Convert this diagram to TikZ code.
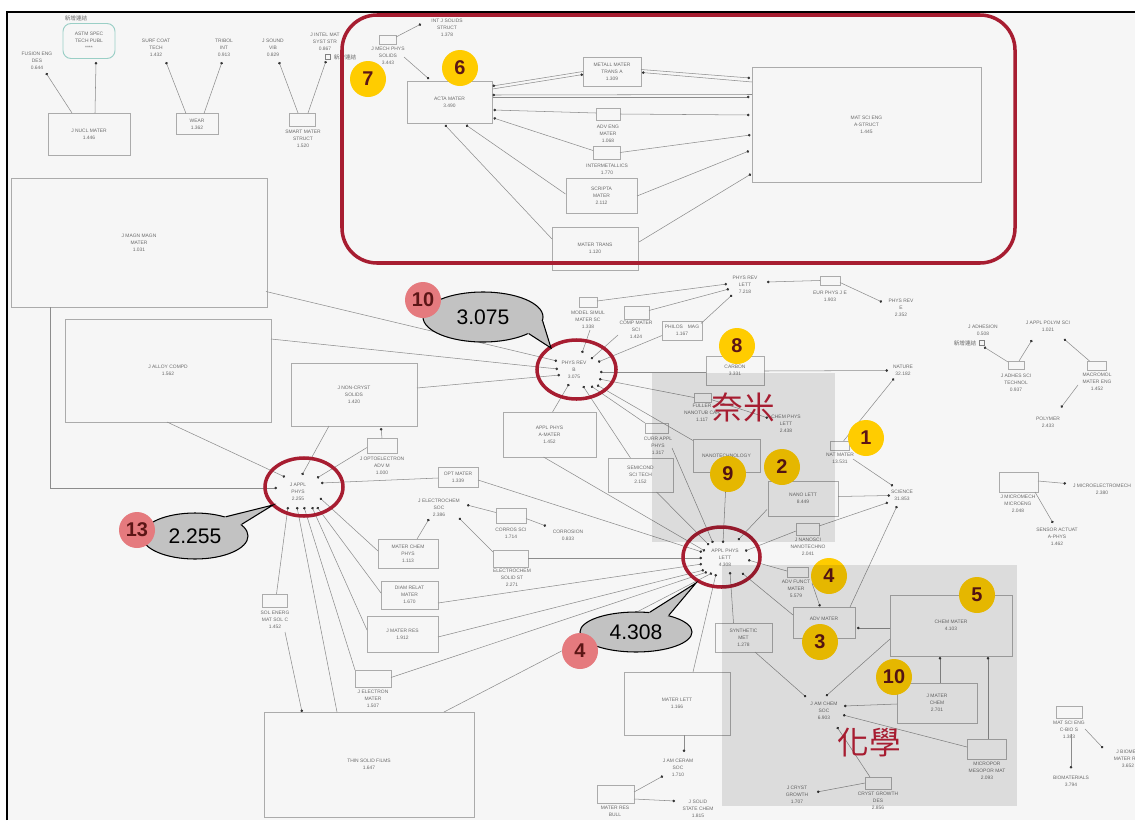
\documentclass[tikz,border=0pt]{standalone}
\usepackage{fontspec}
\setsansfont{Liberation Sans}
\newfontfamily\cjk{Noto Sans CJK TC}
\usetikzlibrary{arrows.meta,calc,shapes.geometric}
\definecolor{bgc}{HTML}{F6F6F6}
\definecolor{boxc}{HTML}{ABABAB}
\definecolor{linec}{HTML}{8C8C8C}
\definecolor{txtc}{HTML}{6A6A6A}
\definecolor{dotc}{HTML}{333333}
\definecolor{crimson}{HTML}{A71D31}
\definecolor{gold}{HTML}{FFCC00}
\definecolor{rose}{HTML}{E57A7E}
\definecolor{numtxt}{HTML}{5C1616}
\definecolor{bubc}{HTML}{C2C2C2}
\definecolor{tealc}{HTML}{9ACFC6}
\tikzset{
  every node/.style={font=\sffamily\fontsize{4.2}{6}\selectfont, text=txtc, inner sep=0pt},
  box/.style={draw=boxc, line width=0.6pt, align=center},
  lab/.style={align=center},
  sz/.style 2 args={minimum width=#1*0.3mm, minimum height=#2*0.3mm},
  link/.style={draw=linec, line width=0.45pt, -{Circle[length=2.2pt, color=dotc]}},
  tag/.style={font=\cjk\fontsize{4.8}{6}\selectfont},
  chk/.style={draw=gray, line width=0.4pt, minimum size=1.5mm},
  num/.style={circle, fill=gold, minimum size=10.8mm, text=numtxt,
    font=\sffamily\bfseries\fontsize{17}{17}\selectfont},
  pnum/.style={num, fill=rose},
  ring/.style={ellipse, draw=crimson, line width=3pt},
  bub/.style={ellipse, fill=bubc, draw=black, line width=0.9pt, text=black,
    font=\sffamily\fontsize{18}{18}\selectfont},
  tail/.style={draw=black, line width=0.9pt},
  area/.style={fill=black, opacity=0.1},
  big/.style={text=crimson, font=\cjk\fontsize{27}{27}\selectfont}
}
\begin{document}
\begin{tikzpicture}[x=0.3mm, y=-0.3mm]
\useasboundingbox (0,0) rectangle (1135,820);
\fill[white] (0,0) rectangle (1135,820);
\fill[bgc] (7,12) rectangle (1135,820);
\draw[black, line width=1.8pt] (7,820) -- (7,12) -- (1135,12);

% top left
\node[tag] (astmtag) at (76,18) {新增連結};
\node[box, sz={52}{35}, draw=tealc, rounded corners=2.4mm, line width=0.8pt] (astm) at (89,41) {ASTM SPEC\\TECH PUBL\\****};
\node[lab] (fusion) at (37,61) {FUSION ENG\\DES\\0.644};
\node[box, sz={82}{42}] (nucl) at (89,134) {J NUCL MATER\\1.446};
\node[lab] (surf) at (156,48) {SURF COAT\\TECH\\1.432};
\node[lab] (tribol) at (224,48) {TRIBOL\\INT\\0.913};
\node[box, sz={42}{21}] (wear) at (197,124) {WEAR\\1.362};
\node[lab] (sound) at (273,48) {J SOUND\\VIB\\0.829};
\node[lab] (intel) at (325,42) {J INTEL MAT\\SYST STR\\0.867};
\node[chk] (intelchk) at (328,57) {};
\node[tag] (inteltag) at (345,57) {新增連結};
\node[box, sz={26}{13}] (smartb) at (302,119.5) {};
\node[lab] (smart) at (303,139) {SMART MATER\\STRUCT\\1.520};
\draw[link] ($(nucl)+(-17,-21)$) -- ($(fusion)+(9,12)$);
\draw[link] ($(nucl)+(6,-21)$) -- ($(astm)+(7,21)$);
\draw[link] ($(wear)+(-11,-10.5)$) -- ($(surf)+(10,14)$);
\draw[link] ($(wear)+(7,-10.5)$) -- ($(tribol)+(-2,14)$);
\draw[link] ($(smartb)+(-4,-6.5)$) -- ($(sound)+(6,14)$);
\draw[link] ($(smartb)+(6,-6.5)$) -- ($(intel)+(1,19)$);

% materials cluster
\node[lab] (intsol) at (447,28) {INT J SOLIDS\\STRUCT\\1.378};
\node[box, sz={17}{9}] (mechb) at (387.5,39.5) {};
\node[lab] (mech) at (388,56) {J MECH PHYS\\SOLIDS\\3.443};
\node[box, sz={85}{42}] (acta) at (449.5,102) {ACTA MATER\\3.490};
\node[box, sz={58}{29}] (metall) at (612,71.5) {METALL MATER\\TRANS A\\1.309};
\node[box, sz={24}{12}] (advengb) at (608,114) {};
\node[lab] (adveng) at (608,134) {ADV ENG\\MATER\\1.068};
\node[box, sz={27}{13}] (intermb) at (606.5,152.5) {};
\node[lab] (interm) at (607,169.5) {INTERMETALLICS\\1.770};
\node[box, sz={71}{35}] (scripta) at (601.5,195.5) {SCRIPTA\\MATER\\2.112};
\node[box, sz={86}{43}] (matertr) at (595,248.5) {MATER TRANS\\1.120};
\node[box, sz={229}{115}] (matsci) at (866.5,124.5) {MAT SCI ENG\\A-STRUCT\\1.445};
\draw[link] ($(mechb)+(8.5,-2.5)$) -- ($(intsol)+(-26,-4)$);
\draw[link] ($(mech)+(16,1)$) -- ($(acta)+(-20.5,-23)$);
\draw[link] ($(metall)+(-29,0)$) -- ($(acta)+(43,-16)$);
\draw[link] ($(acta)+(43,-13)$) -- ($(metall)+(-29,3)$);
\draw[link] ($(metall)+(29,-2)$) -- ($(matsci)+(-116.5,-46.5)$);
\draw[link] ($(matsci)+(-114.5,-42.5)$) -- ($(metall)+(30,1)$);
\draw[link] ($(matsci)+(-114.5,-30)$) -- ($(acta)+(43,-7)$);
\draw[link] ($(acta)+(43,-5)$) -- ($(matsci)+(-117,-27.5)$);
\draw[link] ($(advengb)+(-12,-1)$) -- ($(acta)+(44,8)$);
\draw[link] ($(advengb)+(12,0)$) -- ($(matsci)+(-117,-9.5)$);
\draw[link] ($(intermb)+(-13.5,-2)$) -- ($(acta)+(44,16)$);
\draw[link] ($(intermb)+(13.5,0)$) -- ($(matsci)+(-116,10.5)$);
\draw[link] ($(scripta)+(-36,-1.5)$) -- ($(acta)+(16.5,23)$);
\draw[link] ($(scripta)+(35.5,0.5)$) -- ($(matsci)+(-117.5,26.5)$);
\draw[link] ($(matertr)+(-43,-9.5)$) -- ($(acta)+(-4.5,23)$);
\draw[link] ($(matertr)+(44,-6.5)$) -- ($(matsci)+(-115.5,49.5)$);

% J APPL PHYS side
\node[lab] (prb) at (574,370) {PHYS REV\\B\\3.075};
\node[box, sz={256}{129}] (magn) at (139,242.5) {J MAGN MAGN\\MATER\\1.031};
\node[box, sz={206}{103}] (alloy) at (168,370.5) {J ALLOY COMPD\\1.562};
\node[box, sz={126}{63}] (noncr) at (354,394.5) {J NON-CRYST\\SOLIDS\\1.420};
\node[box, sz={30}{15}] (optob) at (382,445.5) {};
\node[lab] (opto) at (382,466) {J OPTOELECTRON\\ADV M\\1.000};
\node[lab] (jap) at (298,492) {J APPL\\PHYS\\2.255};
\node[box, sz={40}{20}] (optm) at (458,477) {OPT MATER\\1.339};
\node[box, sz={25}{13}] (solb) at (274.5,600.5) {};
\node[lab] (sol) at (275,620) {SOL ENERG\\MAT SOL C\\1.452};
\node[box, sz={210}{105}] (thin) at (369,764.5) {THIN SOLID FILMS\\1.647};
\node[box, sz={36}{17}] (elecb) at (373,678.5) {};
\node[lab] (elec) at (373,699) {J ELECTRON\\MATER\\1.507};
\node[box, sz={71}{36}] (jmr) at (402.5,634) {J MATER RES\\1.912};
\node[box, sz={57}{28}] (diam) at (409.5,595) {DIAM RELAT\\MATER\\1.670};
\node[box, sz={60}{29}] (mcp) at (408,553.5) {MATER CHEM\\PHYS\\1.113};
\node[lab] (jes) at (439,508) {J ELECTROCHEM\\SOC\\2.386};
\node[box, sz={30}{15}] (corrb) at (511,515.5) {};
\node[lab] (corr) at (511,533.5) {CORROS SCI\\1.714};
\node[lab] (corro) at (568,535.5) {CORROSION\\0.833};
\node[box, sz={35}{17}] (elsb) at (510.5,558.5) {};
\node[lab] (els) at (512,578) {ELECTROCHEM\\SOLID ST\\2.271};
\draw[link] ($(magn)+(127,49)$) -- ($(prb)+(-17,-9)$);
\draw[link] ($(magn)+(-89,64.5)$) |- ($(jap)+(-21,-4)$);
\draw[link] ($(alloy)+(103,-31.5)$) -- ($(prb)+(-16,-1)$);
\draw[link] ($(noncr)+(63,-6.5)$) -- ($(prb)+(-14,5)$);
\draw[link] ($(optob)+(0,-7.5)$) -- ($(noncr)+(27,33.5)$);
\draw[link] ($(optob)+(-15,2)$) -- ($(jap)+(19,-14)$);
\draw[link] ($(noncr)+(-25,31.5)$) -- ($(jap)+(4,-17)$);
\draw[link] ($(alloy)+(-1,51.5)$) -- ($(jap)+(-13,-15)$);
\draw[link] ($(optm)+(-20,1)$) -- ($(jap)+(23,-9)$);
\draw[link] ($(solb)+(2,-6.5)$) -- ($(jap)+(-10,15)$);
\draw[link] ($(sol)+(10,12)$) -- ($(thin)+(-67,-52.5)$);
\draw[link] ($(thin)+(-32,-52.5)$) -- ($(jap)+(-1,15)$);
\draw[link] ($(elecb)+(-18,-8.5)$) -- ($(jap)+(6,15)$);
\draw[link] ($(jmr)+(-35.5,-4)$) -- ($(jap)+(14,15)$);
\draw[link] ($(diam)+(-28.5,-2)$) -- ($(jap)+(19,15)$);
\draw[link] ($(mcp)+(-30,-2.5)$) -- ($(jap)+(22,6)$);
\draw[link] ($(mcp)+(9,-14.5)$) -- ($(jes)+(-10,11)$);
\draw[link] ($(corrb)+(-15,-3)$) -- ($(jes)+(28,-3)$);
\draw[link] ($(corrb)+(15,3)$) -- ($(corro)+(-22,-9.5)$);
\draw[link] ($(elsb)+(-17.5,-6.5)$) -- ($(jes)+(20,10)$);

% PHYS REV B / APPL PHYS LETT
\node[box, sz={18}{10}] (modelb) at (588,302) {};
\node[lab] (model) at (588,320) {MODEL SIMUL\\MATER SC\\1.338};
\node[box, sz={25}{13}] (compb) at (636.5,312.5) {};
\node[lab] (comp) at (636,330) {COMP MATER\\SCI\\1.424};
\node[box, sz={40}{19}] (philos) at (682,330.5) {PHILOS\quad MAG\\1.167};
\node[lab] (prl) at (745,285) {PHYS REV\\LETT\\7.218};
\node[box, sz={20}{9}] (eurb) at (830,280.5) {};
\node[lab] (eur) at (830,296.5) {EUR PHYS J E\\1.903};
\node[lab] (pre) at (901,308) {PHYS REV\\E\\2.352};
\node[lab] (apl) at (725,558) {APPL PHYS\\LETT\\4.308};
\node[box, sz={93}{45}] (apa) at (549.5,434.5) {APPL PHYS\\A-MATER\\1.452};
\node[box, sz={65}{34}] (semi) at (640.5,475) {SEMICOND\\SCI TECH\\2.152};
\node[box, sz={23}{10}] (currb) at (656.5,428) {};
\node[lab] (curr) at (658,446) {CURR APPL\\PHYS\\1.317};
\node[box, sz={67}{33}] (nanot) at (726.5,455.5) {NANOTECHNOLOGY};
\node[box, sz={17}{9}] (fullb) at (702.5,397.5) {};
\node[lab] (full) at (702,413) {FULLER\\NANOTUB CAR\\1.117};
\node[lab] (cpl) at (786,424) {CHEM PHYS\\LETT\\2.438};
\node[box, sz={58}{29}] (carbon) at (735,370.5) {CARBON\\3.331};
\node[lab] (nature) at (903,370.5) {NATURE\\32.182};
\node[box, sz={19}{9}] (natmb) at (839.5,445.5) {};
\node[lab] (natm) at (840,458) {NAT MATER\\13.531};
\node[lab] (science) at (902,495.5) {SCIENCE\\31.853};
\node[box, sz={70}{35}] (nanol) at (803,498.5) {NANO LETT\\8.449};
\node[box, sz={23}{12}] (nsb) at (807.5,529) {};
\node[lab] (ns) at (808,547) {J NANOSCI\\NANOTECHNO\\2.041};
\node[box, sz={21}{10}] (afb) at (797.5,572) {};
\node[lab] (af) at (796,589) {ADV FUNCT\\MATER\\5.579};
\node[box, sz={62}{31}] (advm) at (824,622.5) {ADV MATER\\\mbox{}};
\node[box, sz={122}{61}] (chem) at (951,625.5) {CHEM MATER\\4.103};
\node[box, sz={80}{40}] (jmc) at (937,703) {J MATER\\CHEM\\2.701};
\node[box, sz={39}{20}] (micb) at (986.5,749) {};
\node[lab] (mic) at (987,771) {MICROPOR\\MESOPOR MAT\\2.093};
\node[lab] (jac) at (824,711) {J AM CHEM\\SOC\\6.903};
\node[box, sz={57}{29}] (syn) at (743.5,637.5) {SYNTHETIC\\MET\\1.278};
\node[box, sz={26}{12}] (cgb) at (878,783) {};
\node[lab] (cg) at (878,801) {CRYST GROWTH\\DES\\2.856};
\node[lab] (jcg) at (797,795) {J CRYST\\GROWTH\\1.707};
\node[box, sz={106}{63}] (mlett) at (677,703.5) {MATER LETT\\1.166};
\node[lab] (jace) at (678,768) {J AM CERAM\\SOC\\1.710};
\node[box, sz={37}{18}] (mrbb) at (615.5,794) {};
\node[lab] (mrb) at (615,811.5) {MATER RES\\BULL};
\node[lab] (jss) at (698,809) {J SOLID\\STATE CHEM\\1.815};
\draw[link] ($(modelb)+(9,-1)$) -- ($(prl)+(-18,-1)$);
\draw[link] ($(model)+(2,10)$) -- ($(prb)+(8,-17)$);
\draw[link] ($(compb)+(12.5,-2)$) -- ($(prl)+(-16,4)$);
\draw[link] ($(comp)+(-18,5)$) -- ($(prb)+(17,-11)$);
\draw[link] ($(philos)+(19,-7)$) -- ($(prl)+(-13,10)$);
\draw[link] ($(philos)+(-20,5)$) -- ($(prb)+(24,-8)$);
\draw[link] ($(eurb)+(-10,0)$) -- ($(prl)+(22,-3)$);
\draw[link] ($(eurb)+(10,2)$) -- ($(pre)+(-19,-6)$);
\draw[link] ($(optm)+(20,3)$) -- ($(apl)+(-23,-6)$);
\draw[link] ($(elsb)+(17.5,-0.5)$) -- ($(apl)+(-23,0)$);
\draw[link] ($(diam)+(28.5,8)$) -- ($(apl)+(-23,6)$);
\draw[link] ($(jmr)+(35.5,3)$) -- ($(apl)+(-21,12)$);
\draw[link] ($(elecb)+(18,-1)$) -- ($(apl)+(-18,14)$);
\draw[link] ($(thin)+(75,-52.5)$) -- ($(apl)+(-13,15)$);
\draw[link] ($(apa)+(-6,22.5)$) -- ($(apl)+(-20,-7)$);
\draw[link] ($(apa)+(3,-22.5)$) -- ($(prb)+(-5,14)$);
\draw[link] ($(semi)+(16,17)$) -- ($(apl)+(-16,-13)$);
\draw[link] ($(semi)+(-10,-17)$) -- ($(prb)+(9,16)$);
\draw[link] ($(currb)+(-11.5,-5)$) -- ($(prb)+(17,16)$);
\draw[link] ($(curr)+(14,2)$) -- ($(apl)+(-12,-15)$);
\draw[link] ($(nanot)+(0,16.5)$) -- ($(apl)+(-2,-15)$);
\draw[link] ($(nanot)+(-33.5,-15)$) -- ($(prb)+(23,15)$);
\draw[link] ($(fullb)+(-8.5,0)$) -- ($(prb)+(25,9)$);
\draw[link] ($(fullb)+(8.5,2)$) -- ($(cpl)+(-18,-6)$);
\draw[link] ($(carbon)+(-29,1.5)$) -- ($(prb)+(26,2)$);
\draw[link] ($(carbon)+(29,0.5)$) -- ($(nature)+(-15,0)$);
\draw[link] ($(natmb)+(4,-4.5)$) -- ($(nature)+(-9,8)$);
\draw[link] ($(natm)+(13,1)$) -- ($(science)+(-9,-9.5)$);
\draw[link] ($(nanol)+(35,-2)$) -- ($(science)+(-12,0)$);
\draw[link] ($(nanol)+(-36,11)$) -- ($(apl)+(13,-18)$);
\draw[link] ($(nsb)+(-11.5,2)$) -- ($(apl)+(20,-7)$);
\draw[link] ($(nsb)+(11.5,-3)$) -- ($(science)+(-14,7)$);
\draw[link] ($(afb)+(-10.5,-1)$) -- ($(apl)+(23,2)$);
\draw[link] ($(af)+(16,-6)$) -- ($(advm)+(-4,-16)$);
\draw[link] ($(advm)+(-31,-7.5)$) -- ($(apl)+(17,15)$);
\draw[link] ($(advm)+(26,-15.5)$) -- ($(science)+(-5,10.5)$);
\draw[link] ($(chem)+(-61,2.5)$) -- ($(advm)+(33,5.5)$);
\draw[link] ($(chem)+(-61,13.5)$) -- ($(jac)+(2,-15)$);
\draw[link] ($(jmc)+(3,-20)$) -- ($(chem)+(-11,31.5)$);
\draw[link] ($(jmc)+(-40,1)$) -- ($(jac)+(20,-5)$);
\draw[link] ($(micb)+(1.5,-10)$) -- ($(chem)+(37,31.5)$);
\draw[link] ($(micb)+(-19.5,-2)$) -- ($(jac)+(19,4)$);
\draw[link] ($(syn)+(-10,-14.5)$) -- ($(apl)+(5,14)$);
\draw[link] ($(syn)+(11.5,14.5)$) -- ($(jac)+(-18,-14)$);
\draw[link] ($(cgb)+(-8,-6)$) -- ($(jac)+(13,16)$);
\draw[link] ($(cgb)+(-13,0)$) -- ($(jcg)+(20,-3)$);
\draw[link] ($(mlett)+(16,-31.5)$) -- ($(apl)+(-9,16)$);
\draw[link] ($(mlett)+(7,31.5)$) -- ($(jace)+(6,-16)$);
\draw[link] ($(mrbb)+(18.5,-2)$) -- ($(jace)+(-15,8)$);
\draw[link] ($(mrbb)+(18.5,5)$) -- ($(jss)+(-23,-8)$);

% right side
\node[lab] (adhe) at (983,330.5) {J ADHESION\\0.508};
\node[tag] (adhetag) at (965,343) {新增連結};
\node[chk] (adhechk) at (982,343) {};
\node[box, sz={16}{8}] (adsb) at (1016,365) {};
\node[lab] (ads) at (1016,383) {J ADHES SCI\\TECHNOL\\0.937};
\node[lab] (apolym) at (1048,326.5) {J APPL POLYM SCI\\1.021};
\node[box, sz={19}{9}] (macb) at (1096.5,365.5) {};
\node[lab] (mac) at (1097,382) {MACROMOL\\MATER ENG\\1.452};
\node[lab] (polym) at (1048,422.5) {POLYMER\\2.433};
\node[box, sz={39}{20}] (mmb) at (1018.5,482) {};
\node[lab] (mm) at (1018,504) {J MICROMECH\\MICROENG\\2.048};
\node[lab] (mel) at (1102,489.5) {J MICROELECTROMECH\\2.380};
\node[lab] (sen) at (1057,537) {SENSOR ACTUAT\\A-PHYS\\1.462};
\node[box, sz={26}{12}] (mscb) at (1069,712) {};
\node[lab] (msc) at (1069,730) {MAT SCI ENG\\C-BIO S\\1.383};
\node[lab] (biom) at (1071,781.5) {BIOMATERIALS\\3.794};
\node[lab] (jbm) at (1128,759) {J BIOMED\\MATER RES\\3.652};
\draw[link] ($(adsb)+(-8,-3)$) -- ($(adhe)+(1,16.5)$);
\draw[link] ($(adsb)+(3,-4)$) -- ($(apolym)+(-16,13.5)$);
\draw[link] ($(macb)+(-7,-4.5)$) -- ($(apolym)+(16,12.5)$);
\draw[link] ($(mac)+(-19,3)$) -- ($(polym)+(13,-15)$);
\draw[link] ($(mmb)+(19.5,-1)$) -- ($(mel)+(-36,-6)$);
\draw[link] ($(mmb)+(16.5,10)$) -- ($(sen)+(-4,-14)$);
\draw[link] ($(msc)+(2,4)$) -- ($(biom)+(0,-13)$);
\draw[link] ($(msc)+(16,-1)$) -- ($(jbm)+(-25,-11)$);

% highlights
\draw[crimson, line width=3pt, rounded corners=10.5mm] (342,15) rectangle (1015,263);
\node[num] (m1) at (866,438) {1};
\node[num] (m2) at (782,467) {2};
\node[num] (m3) at (820,642) {3};
\node[num] (m4) at (829,576) {4};
\node[num] (m5) at (977,595) {5};
\node[num] (m6) at (460,68) {6};
\node[num] (m7) at (368,79) {7};
\node[num] (m8) at (737,346) {8};
\node[num] (m9) at (728,474) {9};
\node[num] (m10) at (894,677) {10};
\node[ring, sz={78}{58}] (japring) at (304,487) {};
\node[ring, sz={79}{59}] (prbring) at (576.5,369.5) {};
\node[ring, sz={77}{60}] (aplring) at (721.5,557) {};
\fill[area] (652,373) rectangle (835,542);
\fill[area] (722,565) rectangle (1017,806);
\node[big] (nami) at (743,407) {奈米};
\node[big] (huaxue) at (869,743) {化學};

% callouts
\node[bub, sz={120}{50}] (bub1) at (483,317) {3.075};
\coordinate (tip1) at (551,348);
\fill[bubc] ($(bub1.-20)!0.2!(bub1.center)$) -- (bub1.-20) -- (tip1) -- (bub1.-4) -- ($(bub1.-4)!0.2!(bub1.center)$) -- cycle;
\draw[tail] (bub1.-20) -- (tip1) -- (bub1.-4);
\node[bub, sz={106}{46}] (bub2) at (195,536) {2.255};
\coordinate (tip2) at (273,505);
\fill[bubc] ($(bub2.32)!0.2!(bub2.center)$) -- (bub2.32) -- (tip2) -- (bub2.14) -- ($(bub2.14)!0.2!(bub2.center)$) -- cycle;
\draw[tail] (bub2.32) -- (tip2) -- (bub2.14);
\node[bub, sz={112}{40}] (bub3) at (636,632) {4.308};
\coordinate (tip3) at (696,583);
\fill[bubc] ($(bub3.55)!0.2!(bub3.center)$) -- (bub3.55) -- (tip3) -- (bub3.27) -- ($(bub3.27)!0.2!(bub3.center)$) -- cycle;
\draw[tail] (bub3.55) -- (tip3) -- (bub3.27);
\node[pnum] (p10) at (423,300) {10};
\node[pnum] (p13) at (137,530) {13};
\node[pnum] (p4) at (580,651) {4};
\end{tikzpicture}
\end{document}
